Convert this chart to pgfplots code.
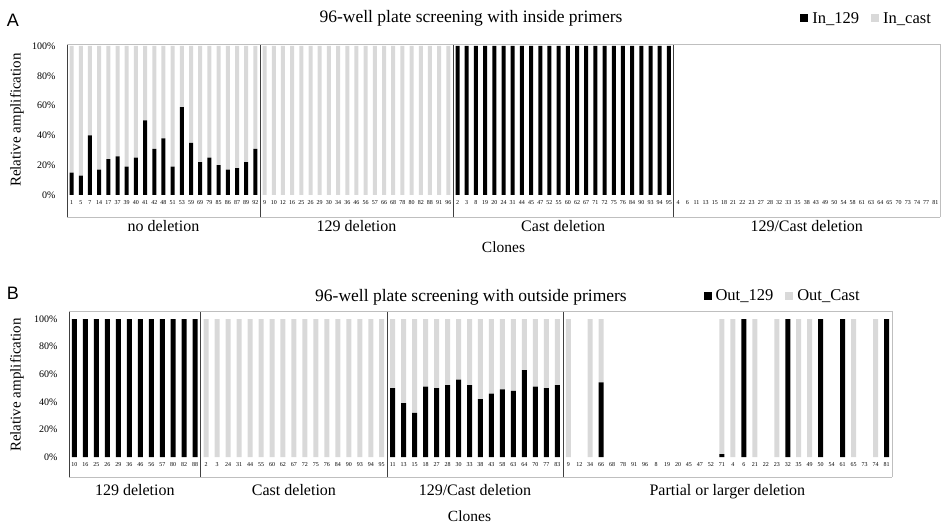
\documentclass[border=0pt]{standalone}
\usepackage{pgfplots}
\pgfplotsset{compat=1.18}
\usepackage{pgfplotstable}
\usepackage{fontspec}
\setmainfont{Liberation Serif}
\newfontfamily\arialfont{Liberation Sans}
\definecolor{lgray}{HTML}{D9D9D9}
\definecolor{fgray}{HTML}{BFBFBF}
\definecolor{sgray}{HTML}{404040}

\pgfplotstableread{
x a b
0 15 85
1 13 87
2 40 60
3 17 83
4 24 76
5 26 74
6 19 81
7 25 75
8 50 50
9 31 69
10 38 62
11 19 81
12 59 41
13 35 65
14 22 78
15 25 75
16 20 80
17 17 83
18 18 82
19 22 78
20 31 69
21 0 100
22 0 100
23 0 100
24 0 100
25 0 100
26 0 100
27 0 100
28 0 100
29 0 100
30 0 100
31 0 100
32 0 100
33 0 100
34 0 100
35 0 100
36 0 100
37 0 100
38 0 100
39 0 100
40 0 100
41 0 100
42 100 0
43 100 0
44 100 0
45 100 0
46 100 0
47 100 0
48 100 0
49 100 0
50 100 0
51 100 0
52 100 0
53 100 0
54 100 0
55 100 0
56 100 0
57 100 0
58 100 0
59 100 0
60 100 0
61 100 0
62 100 0
63 100 0
64 100 0
65 100 0
66 0 0
67 0 0
68 0 0
69 0 0
70 0 0
71 0 0
72 0 0
73 0 0
74 0 0
75 0 0
76 0 0
77 0 0
78 0 0
79 0 0
80 0 0
81 0 0
82 0 0
83 0 0
84 0 0
85 0 0
86 0 0
87 0 0
88 0 0
89 0 0
90 0 0
91 0 0
92 0 0
93 0 0
94 0 0
}\dataA

\pgfplotstableread{
x a b
0 100 0
1 100 0
2 100 0
3 100 0
4 100 0
5 100 0
6 100 0
7 100 0
8 100 0
9 100 0
10 100 0
11 100 0
12 0 100
13 0 100
14 0 100
15 0 100
16 0 100
17 0 100
18 0 100
19 0 100
20 0 100
21 0 100
22 0 100
23 0 100
24 0 100
25 0 100
26 0 100
27 0 100
28 0 100
29 50 50
30 39 61
31 32 68
32 51 49
33 50 50
34 52 48
35 56 44
36 52 48
37 42 58
38 46 54
39 49 51
40 48 52
41 63 37
42 51 49
43 50 50
44 52 48
45 0 100
46 0 0
47 0 100
48 54 46
49 0 0
50 0 0
51 0 0
52 0 0
53 0 0
54 0 0
55 0 0
56 0 0
57 0 0
58 0 0
59 2 98
60 0 100
61 100 0
62 0 100
63 0 0
64 0 100
65 100 0
66 0 100
67 0 100
68 100 0
69 0 0
70 100 0
71 0 100
72 0 0
73 0 100
74 100 0
}\dataB

\pgfplotsset{
  myaxis/.style={
    scale only axis,
    ybar stacked,
    ymin=0, ymax=100,
    ytick={0,20,40,60,80,100},
    yticklabel={\pgfmathprintnumber{\tick}\%},
    /pgf/number format/assume math mode=true,
    yticklabel style={font=\fontsize{10}{10}\selectfont, xshift=-8pt},
    xticklabel style={font=\fontsize{6}{6}\selectfont, yshift=-2pt},
    major tick length=0pt,
    axis line style={draw=none},
    clip=false,
    legend style={draw=none, fill=none, legend columns=2,
      font=\fontsize{16.5}{16.5}\selectfont,
      /tikz/every odd column/.append style={column sep=2pt},
      /tikz/every even column/.append style={column sep=10pt}},
    legend image code/.code={\fill[##1] (0pt,-4pt) rectangle (8pt,4pt);},
  },
}
\tikzset{grp/.style={font=\fontsize{16}{16}\selectfont, text height=11pt, text depth=3.5pt}}

\begin{document}
\begin{tikzpicture}
\path[use as bounding box] (0pt,0pt) rectangle (943pt,523pt);

% ---------- Panel A ----------
\node[font=\arialfont\fontsize{18}{18}\selectfont] at (13pt,503pt) {A};
\node[font=\fontsize{17.5}{17.5}\selectfont] at (471pt,505pt) {96-well plate screening with inside primers};
\node[rotate=90, font=\fontsize{15}{15}\selectfont] at (17pt,403pt) {Relative amplification};
\begin{axis}[myaxis,
  at={(67pt,328pt)}, anchor=south west,
  width=873pt, height=149pt,
  bar width=4pt,
  xmin=-0.5, xmax=94.5,
  xtick={0,...,94},
  xticklabels={1,5,7,14,17,37,39,40,41,42,48,51,53,59,69,79,85,86,87,89,92,
    9,10,12,16,25,26,29,30,34,36,46,56,57,66,68,78,80,82,88,91,96,
    2,3,8,19,20,24,31,44,45,47,52,55,60,62,67,71,72,75,76,84,90,93,94,95,
    4,6,11,13,15,18,21,22,23,27,28,32,33,35,38,43,49,50,54,58,61,63,64,65,70,73,74,77,81},
  legend style={at={(rel axis cs:0.9955,1.185)}, anchor=east},
]
\draw[fgray] (axis cs:-0.5,101.3) -- (axis cs:94.5,101.3);
\draw[fgray] (axis cs:94.5,101.3) -- ([yshift=-22pt]axis cs:94.5,0);
\draw[fgray] ([yshift=-22pt]axis cs:-0.5,0) -- ([yshift=-22pt]axis cs:94.5,0);
\draw[sgray] (axis cs:-0.5,101.3) -- ([yshift=-22pt]axis cs:-0.5,0);
\draw[sgray] (axis cs:20.5,101.3) -- ([yshift=-22pt]axis cs:20.5,0);
\draw[sgray] (axis cs:41.5,101.3) -- ([yshift=-22pt]axis cs:41.5,0);
\draw[sgray] (axis cs:65.5,101.3) -- ([yshift=-22pt]axis cs:65.5,0);
\addplot[fill=black, draw=none] table[x=x, y=a] {\dataA};
\addlegendentry{In\_129}
\addplot[fill=lgray, draw=none] table[x=x, y=b] {\dataA};
\addlegendentry{In\_cast}
\node[grp, yshift=-33pt] at (axis cs:10,0) {no deletion};
\node[grp, yshift=-33pt] at (axis cs:31,0) {129 deletion};
\node[grp, yshift=-33pt] at (axis cs:53.5,0) {Cast deletion};
\node[grp, yshift=-33pt] at (axis cs:80,0) {129/Cast deletion};
\node[font=\fontsize{15.5}{15.5}\selectfont, yshift=-52pt] at (axis cs:47,0) {Clones};
\end{axis}

% ---------- Panel B ----------
\node[font=\arialfont\fontsize{18}{18}\selectfont] at (13pt,230pt) {B};
\node[font=\fontsize{17.5}{17.5}\selectfont] at (471pt,226pt) {96-well plate screening with outside primers};
\node[rotate=90, font=\fontsize{15}{15}\selectfont] at (17pt,138pt) {Relative amplification};
\begin{axis}[myaxis,
  at={(69pt,66pt)}, anchor=south west,
  width=823pt, height=138pt,
  bar width=5pt,
  xmin=-0.5, xmax=74.5,
  xtick={0,...,74},
  xticklabels={10,16,25,26,29,36,46,56,57,80,82,88,
    2,3,24,31,44,55,60,62,67,72,75,76,84,90,93,94,95,
    11,13,15,18,27,28,30,33,38,43,58,63,64,70,77,83,
    9,12,34,66,68,78,91,96,8,19,20,45,47,52,71,4,6,21,22,23,32,35,49,50,54,61,65,73,74,81},
  legend style={at={(rel axis cs:0.967,1.167)}, anchor=east},
]
\draw[fgray] (axis cs:-0.5,105.8) -- (axis cs:74.5,105.8);
\draw[fgray] (axis cs:74.5,105.8) -- ([yshift=-20pt]axis cs:74.5,0);
\draw[fgray] ([yshift=-20pt]axis cs:-0.5,0) -- ([yshift=-20pt]axis cs:74.5,0);
\draw[sgray] (axis cs:-0.5,105.8) -- ([yshift=-20pt]axis cs:-0.5,0);
\draw[sgray] (axis cs:11.5,105.8) -- ([yshift=-20pt]axis cs:11.5,0);
\draw[sgray] (axis cs:28.5,105.8) -- ([yshift=-20pt]axis cs:28.5,0);
\draw[sgray] (axis cs:44.5,105.8) -- ([yshift=-20pt]axis cs:44.5,0);
\addplot[fill=black, draw=none] table[x=x, y=a] {\dataB};
\addlegendentry{Out\_129}
\addplot[fill=lgray, draw=none] table[x=x, y=b] {\dataB};
\addlegendentry{Out\_Cast}
\node[grp, yshift=-35pt] at (axis cs:5.5,0) {129 deletion};
\node[grp, yshift=-35pt] at (axis cs:20,0) {Cast deletion};
\node[grp, yshift=-35pt] at (axis cs:36.5,0) {129/Cast deletion};
\node[grp, yshift=-35pt] at (axis cs:59.5,0) {Partial or larger deletion};
\node[font=\fontsize{15.5}{15.5}\selectfont, yshift=-59pt] at (axis cs:36,0) {Clones};
\end{axis}
\end{tikzpicture}
\end{document}
